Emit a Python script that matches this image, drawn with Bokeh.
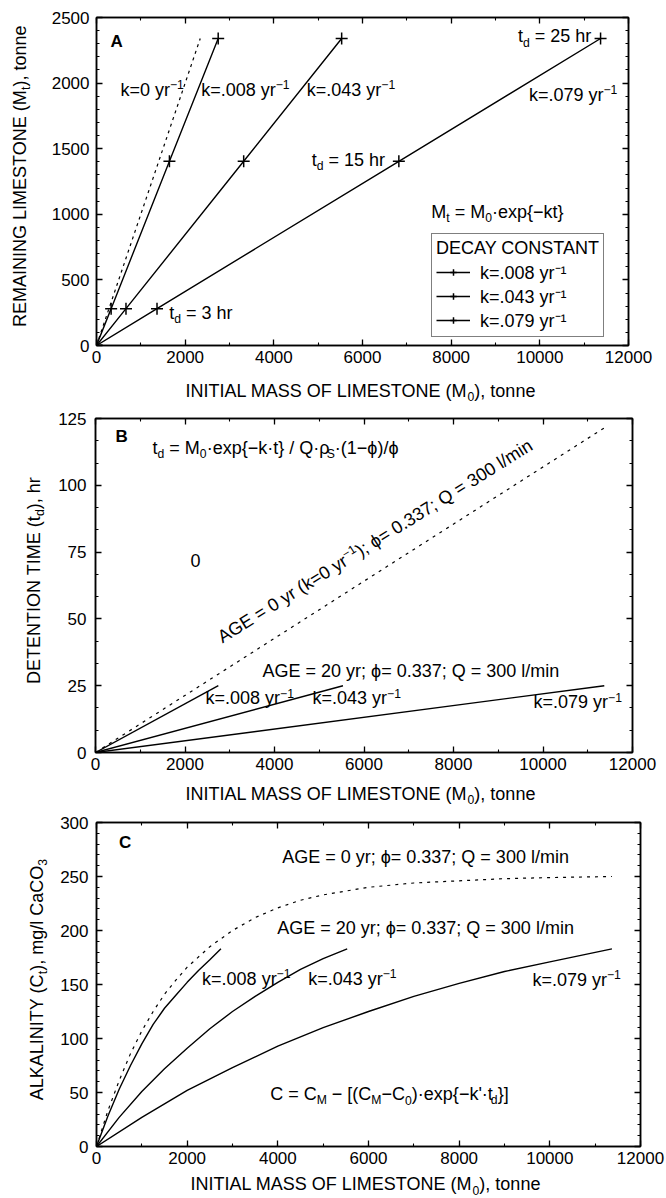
import math
from bokeh.plotting import figure
from bokeh.models import (Label, LinearAxis, SingleIntervalTicker, Range1d,
                          Legend, LegendItem)
from bokeh.layouts import column, row
from bokeh.embed import file_html
from bokeh.resources import INLINE

# ---------------- data ----------------
# Panel A: remaining limestone after 20 yr for detention times 0, 3, 15, 25 hr
TD_MARKS_HR = [0, 3, 15, 25]
MT_A = [0, 281, 1404, 2340]
M0_A_K0 = [0, 2340]
MT_A_K0 = [0, 2340]
M0_A_K008 = [0, 330, 1645, 2745]
M0_A_K043 = [0, 665, 3320, 5530]
M0_A_K079 = [0, 1365, 6820, 11370]

# Panel B: detention time
M0_B_K0 = [0, 11370]
TD_B_K0 = [0, 121.5]
M0_B_K008 = [0, 2745]
M0_B_K043 = [0, 5530]
M0_B_K079 = [0, 11370]
TD_B_AGE20 = [0, 25]

# Panel C: alkalinity
M0_C_K0 = [0, 250, 500, 750, 1000, 1250, 1500, 1750, 2000, 2500, 3000, 3500,
           4000, 4500, 5000, 6000, 7000, 8000, 9000, 10000, 11370]
C_C_K0 = [0, 33, 61, 86, 107, 125, 141, 154, 166, 185, 200, 212,
          221, 228, 233, 240, 244, 246, 248, 249, 250]
M0_C_K008 = [0, 250, 500, 750, 1000, 1250, 1500, 1750, 2000, 2250, 2500, 2745]
C_C_K008 = [0, 28, 53, 75, 95, 113, 128, 140, 152, 163, 173, 183]
M0_C_K043 = [0, 500, 1000, 1500, 2000, 2500, 3000, 3500, 4000, 4500, 5000, 5530]
C_C_K043 = [0, 27, 51, 72, 91, 109, 125, 139, 152, 164, 174, 183]
M0_C_K079 = [0, 1000, 2000, 3000, 4000, 5000, 6000, 7000, 8000, 9000, 10000, 11370]
C_C_K079 = [0, 27, 52, 73, 93, 110, 125, 139, 151, 162, 171, 183]

X_TICK_INTERVAL = 2000

# ---------------- text helpers ----------------
FONT = "Liberation Sans"
BASE_FIX = 0.33   # baseline correction, fraction of font size
_W = {}
for chars, w in [(" ", 278), ("(", 333), (")", 333), (",", 278), (".", 278),
                 ("-", 333), ("=", 584), ("/", 278), ("·", 278), ("{", 334),
                 ("}", 334), ("[", 278), ("]", 278), (";", 278), (":", 278),
                 ("'", 191), ("0123456789", 556), ("−", 584), ("ϕ", 650),
                 ("ρ", 578), ("ABEKPSVXY", 667), ("CDHNRUw", 722), ("GOQ", 778),
                 ("FTZ", 611), ("If", 278), ("J", 500), ("L", 556), ("Mm", 833),
                 ("W", 944), ("abdeghnopqu", 556), ("ckvxyzs", 500),
                 ("ijl", 222), ("t", 278), ("r", 333)]:
    for c in chars:
        _W[c] = w


def tw(s, size):
    return sum(_W.get(c, 556) for c in s) * size / 1000.0


def rich(p, x, y, runs, size=18, angle=0.0, align="left", bold=False):
    th = math.radians(angle)
    sizes, widths = [], []
    for kind, t in runs:
        fs = size if kind == "n" else size * 0.68
        sizes.append(fs)
        widths.append(tw(t, fs))
    total = sum(widths)
    w = {"left": 0.0, "center": -total / 2.0, "right": -total}[align]
    for (kind, t), fs, wd in zip(runs, sizes, widths):
        lead = len(t) - len(t.lstrip(" "))
        w0 = w + lead * _W[" "] * fs / 1000.0
        v = 0.0 if kind == "n" else (-0.24 * size if kind == "sub" else 0.40 * size)
        v += BASE_FIX * fs
        xo = w0 * math.cos(th) - v * math.sin(th)
        yo = w0 * math.sin(th) + v * math.cos(th)
        p.add_layout(Label(x=x, y=y, x_offset=xo, y_offset=yo, text=t.strip(" "),
                           angle=angle, angle_units="deg", text_font=FONT,
                           text_font_size=f"{fs:.1f}px", text_color="black",
                           text_font_style="bold" if bold else "normal",
                           text_align="left", text_baseline="alphabetic"))
        w += wd


def N(t):
    return ("n", t)


def SUB(t):
    return ("sub", t)


def SUP(t):
    return ("sup", t)


def text_fig(w, h):
    f = figure(width=w, height=h, x_range=Range1d(0, w), y_range=Range1d(0, h),
               output_backend="svg", toolbar_location=None, min_border=0,
               x_axis_type=None, y_axis_type=None, title=None)
    f.outline_line_color = None
    f.background_fill_color = "white"
    f.border_fill_color = "white"
    return f


def make_fig(w, h, bl, br, bt, bb, yr, yint, yminor, xstand, ystand):
    p = figure(width=w, height=h, x_range=Range1d(0, 12000),
               y_range=Range1d(*yr), output_backend="svg", title=None,
               toolbar_location=None, min_border_left=bl,
               min_border_right=br, min_border_top=bt, min_border_bottom=bb)
    p.grid.visible = False
    p.outline_line_color = "black"
    p.outline_line_width = 1.5
    p.background_fill_color = "white"
    p.border_fill_color = "white"
    xt = SingleIntervalTicker(interval=X_TICK_INTERVAL, num_minor_ticks=2)
    yt = SingleIntervalTicker(interval=yint, num_minor_ticks=yminor)
    p.xaxis.ticker = xt
    p.yaxis.ticker = yt
    p.add_layout(LinearAxis(ticker=xt), "above")
    p.add_layout(LinearAxis(ticker=yt), "right")
    for ax in p.axis:
        ax.axis_line_width = 1.5
        ax.axis_line_color = "black"
        ax.major_tick_in = 6
        ax.major_tick_out = 0
        ax.minor_tick_in = 3
        ax.minor_tick_out = 0
        ax.major_tick_line_width = 1.3
        ax.minor_tick_line_width = 1.1
        ax.major_label_text_font = FONT
        ax.major_label_text_font_size = "17px"
        ax.major_label_text_color = "black"
    p.xaxis[0].major_label_standoff = xstand
    p.yaxis[0].major_label_standoff = ystand
    for ax in (p.above[0], p.right[0]):
        ax.major_label_text_font_size = "0px"
        ax.major_label_text_color = None
        ax.major_label_text_alpha = 0
        ax.major_label_standoff = 0
    return p


LW = 1.4

# ---------------- panel A ----------------
YL_A = 48
pA = make_fig(666 - YL_A, 378, 94 - YL_A, 38, 17, 33, (0, 2500), 500, 5, 9, 7)
pA.line(M0_A_K0, MT_A_K0, line_color="black", line_width=1.2, line_dash="3 4")
renders = []
for m0 in (M0_A_K008, M0_A_K043, M0_A_K079):
    lr = pA.line(m0, MT_A, line_color="black", line_width=LW)
    sr = pA.scatter(m0, MT_A, marker="cross", size=12, line_color="black",
                    line_width=1.5)
    renders.append((lr, sr))
leg = Legend(items=[LegendItem(label="k=.008 yr⁻¹", renderers=list(renders[0])),
                    LegendItem(label="k=.043 yr⁻¹", renderers=list(renders[1])),
                    LegendItem(label="k=.079 yr⁻¹", renderers=list(renders[2]))],
             location=(335, 8), title="DECAY CONSTANT",
             title_text_font=FONT, title_text_font_size="18px",
             title_text_font_style="normal", title_text_color="black",
             label_text_font=FONT, label_text_font_size="18px",
             label_text_color="black", glyph_width=34, glyph_height=16,
             label_height=16, label_standoff=10, padding=4, spacing=0,
             margin=0, border_line_color="black", border_line_width=1.5,
             background_fill_color="white", background_fill_alpha=1.0,
             title_standoff=1)
pA.add_layout(leg)

rich(pA, 315, 2271, [N("A")], size=17, bold=True)
rich(pA, 539, 1905, [N("k=0 yr"), SUP("−1")])
rich(pA, 2360, 1905, [N("k=.008 yr"), SUP("−1")])
rich(pA, 4742, 1905, [N("k=.043 yr"), SUP("−1")])
rich(pA, 9753, 1867, [N("k=.079 yr"), SUP("−1")])
rich(pA, 9506, 2310, [N("t"), SUB("d"), N(" = 25 hr")])
rich(pA, 4854, 1372, [N("t"), SUB("d"), N(" = 15 hr")])
rich(pA, 1640, 206, [N("t"), SUB("d"), N(" = 3 hr")])
rich(pA, 7551, 976, [N("M"), SUB("t"), N(" = M"), SUB("0"), N("·exp{−kt}")])

ylA = text_fig(YL_A, 378)
rich(ylA, 25, 195, [N("REMAINING LIMESTONE (M"), SUB("t"), N("), tonne")],
     angle=90, align="center")
xlA = text_fig(666, 27)
rich(xlA, 185, 9, [N("INITIAL MASS OF LIMESTONE (M"), SUB("0"), N("), tonne")])

# ---------------- panel B ----------------
YL_B = 54
pB = make_fig(666 - YL_B, 375, 95 - YL_B, 34, 13, 28, (0, 125), 25, 3, 5, 9)
pB.line(M0_B_K0, TD_B_K0, line_color="black", line_width=1.2, line_dash="3 5")
for m0 in (M0_B_K008, M0_B_K043, M0_B_K079):
    pB.line(m0, TD_B_AGE20, line_color="black", line_width=LW)

rich(pB, 447, 116, [N("B")], size=17, bold=True)
rich(pB, 1274, 111.9, [N("t"), SUB("d"), N(" = M"), SUB("0"),
                       N("·exp{−k·t} / Q·ρ"), SUB("S"), N("·(1−ϕ)/ϕ")])
rich(pB, 2123, 69.6, [N("0")])
rich(pB, 2838, 40.8, [N("AGE = 0 yr (k=0 yr"), SUP("−1"),
                      N("); ϕ= 0.337; Q = 300 l/min")], angle=32)
rich(pB, 3732, 28.1, [N("AGE = 20 yr; ϕ= 0.337; Q = 300 l/min")])
rich(pB, 2458, 18.0, [N("k=.008 yr"), SUP("−1")])
rich(pB, 4849, 18.0, [N("k=.043 yr"), SUP("−1")])
rich(pB, 9788, 16.5, [N("k=.079 yr"), SUP("−1")])

ylB = text_fig(YL_B, 375)
rich(ylB, 39, 193, [N("DETENTION TIME (t"), SUB("d"), N("), hr")],
     angle=90, align="center")
xlB = text_fig(666, 26)
rich(xlB, 185, 7, [N("INITIAL MASS OF LIMESTONE (M"), SUB("0"), N("), tonne")])

# ---------------- panel C ----------------
YL_C = 56
pC = make_fig(666 - YL_C, 368, 96 - YL_C, 26, 16, 28, (0, 300), 50, 5, 6, 8)
pC.line(M0_C_K0, C_C_K0, line_color="black", line_width=1.2, line_dash="3 5")
pC.line(M0_C_K008, C_C_K008, line_color="black", line_width=LW)
pC.line(M0_C_K043, C_C_K043, line_color="black", line_width=LW)
pC.line(M0_C_K079, C_C_K079, line_color="black", line_width=LW)

rich(pC, 497, 276.7, [N("C")], size=17, bold=True)
rich(pC, 4096, 262.8, [N("AGE = 0 yr; ϕ= 0.337; Q = 300 l/min")])
rich(pC, 3985, 197.1, [N("AGE = 20 yr; ϕ= 0.337; Q = 300 l/min")])
rich(pC, 2329, 149.8, [N("k=.008 yr"), SUP("−1")])
rich(pC, 4670, 149.8, [N("k=.043 yr"), SUP("−1")])
rich(pC, 9615, 148.9, [N("k=.079 yr"), SUP("−1")])
rich(pC, 3830, 43.3, [N("C = C"), SUB("M"), N(" − [(C"), SUB("M"), N("−C"),
                      SUB("0"), N(")·exp{−k'·t"), SUB("d"), N("}]")])

ylC = text_fig(YL_C, 368)
rich(ylC, 42, 189.5, [N("ALKALINITY (C"), SUB("t"), N("), mg/l CaCO"), SUB("3")],
     angle=90, align="center")
xlC = text_fig(666, 24)
rich(xlC, 190, 8.5, [N("INITIAL MASS OF LIMESTONE (M"), SUB("0"), N("), tonne")])

layout = column(row(ylA, pA, spacing=0), xlA,
                row(ylB, pB, spacing=0), xlB,
                row(ylC, pC, spacing=0), xlC, spacing=0)
open("out.html", "w").write(file_html(layout, INLINE))
